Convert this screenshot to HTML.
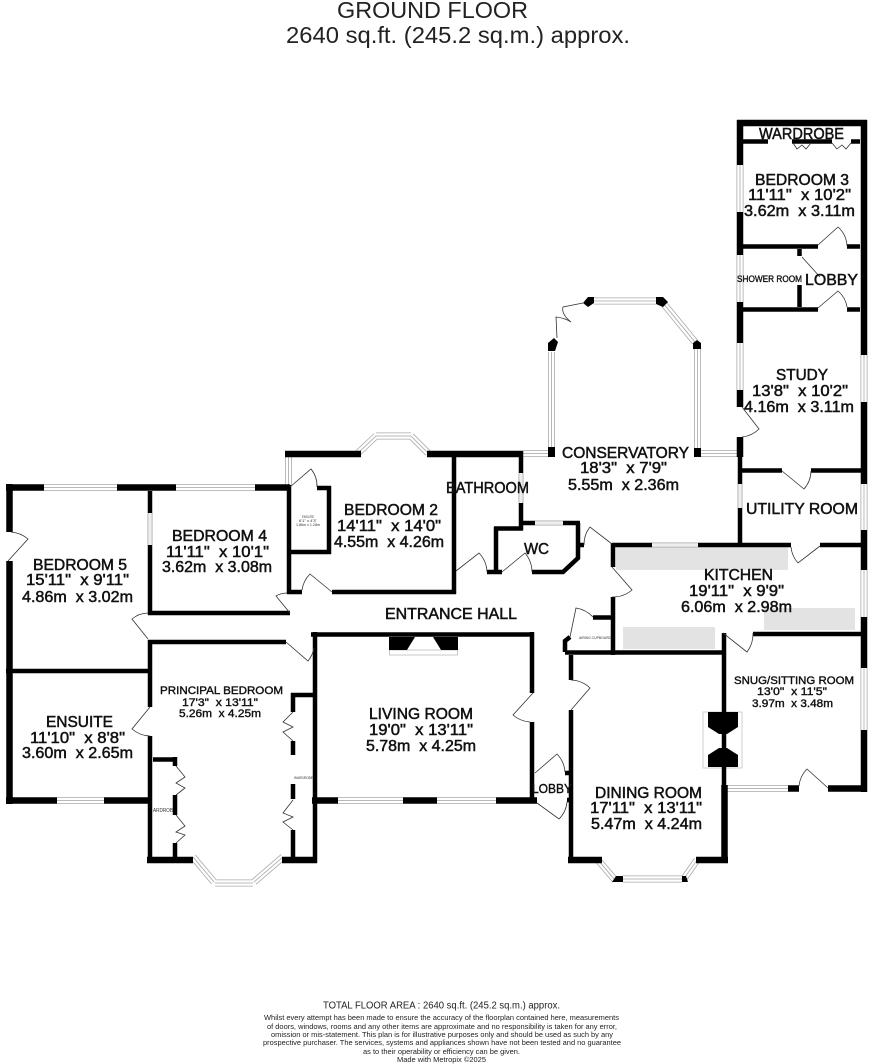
<!DOCTYPE html>
<html lang="en">
<head>
<meta charset="utf-8">
<title>Ground Floor Plan</title>
<style>
html,body{margin:0;padding:0;background:#fff}
svg{display:block;filter:blur(.3px)}
text{font-family:"Liberation Sans",sans-serif;fill:#111;white-space:pre}
.l{font-size:15.6px;stroke:#111;stroke-width:.5}
.t{font-size:23px;fill:#222}
.f{font-size:7.4px;fill:#222}
.s{font-size:9px;stroke:#111;stroke-width:.35}
.m{font-size:11px;stroke:#111;stroke-width:.4}
.x{font-size:4px;fill:#333}
.w{fill:none;stroke:#000;stroke-linecap:butt;stroke-linejoin:miter}
.d{fill:none;stroke:#333;stroke-width:.8}
</style>
</head>
<body>
<svg xmlns="http://www.w3.org/2000/svg" width="872" height="1064" viewBox="0 0 872 1064">
<rect width="872" height="1064" fill="#fff"/>
<defs>
<path id="win7" d="M44 487.5H117M176 487.5H255M288.5 457V485M522 453.5H550M701 453.5H739M551.5 352V447M697.5 349V448M594 301H656M663 303L695 342M740 165V212M740 255V302M740 343V390M864 355V402M864 484V530M864 570V617M864 668V730M57 800.5H104M338 800.5H403M437 800.5H496M358 453L376 436M376 436H411M411 436L428 453M193 857L214 882M215 883H253M254 882L283 857M598 860L615 880M623 879H682M683 880L697 860M726 788.5H788"/>
<path id="win5" d="M150 513V545M740 484V508M652 545H698M521 473V503M535 523H563"/>
</defs>

<!-- kitchen fittings -->
<g fill="#e3e3e3">
<rect x="616" y="547" width="172" height="23"/>
<rect x="764" y="608" width="91" height="22"/>
<rect x="623" y="627" width="92" height="22"/>
</g>

<!-- windows -->
<g fill="none" stroke-linecap="butt">
<use href="#win7" stroke="#a8a8a8" stroke-width="7"/>
<use href="#win7" stroke="#fff" stroke-width="5.4"/>
<use href="#win7" stroke="#b8b8b8" stroke-width="1"/>
<use href="#win5" stroke="#a8a8a8" stroke-width="5"/>
<use href="#win5" stroke="#eee" stroke-width="3.4"/>
</g>

<!-- fireplaces -->
<rect x="389.5" y="650" width="68" height="5" fill="#fff" stroke="#bbb" stroke-width=".8"/>
<path d="M389 637H415L407 650H389ZM433 637H458V650H441Z" fill="#000"/>
<rect x="703" y="712" width="39" height="56" fill="#fff" stroke="#c4c4c4" stroke-width=".8"/>
<path d="M708 712H738V727L727 734H719L708 727ZM719 748H727L738 755V767H708V755Z" fill="#000"/>

<!-- thick walls -->
<g class="w" stroke-width="6.5">
<path d="M737 123H867M740 120V165M740 212V255M740 302V343M740 390V407M740 437V457"/>
<path d="M864 120V355M864 402V484M864 530V570M864 617V668M864 730V792"/>
<path d="M6 487.5H44M117 487.5H176M255 487.5H290M9.5 484V532M9.5 561V804M6 800.5H57M104 800.5H150"/>
<path d="M312 800.5H338M403 800.5H437M496 800.5H537"/>
<path d="M147 860H193M282 860H317M568 860H602M696 860H728M724.5 785V863"/>
<path d="M788 788.5H799M828 788.5H867"/>
<path d="M285 454H361M427 454H522"/>
</g>

<!-- regular walls -->
<g class="w" stroke-width="4.5">
<path d="M743 141.5H768M792 141.5H832M851 141.5H860"/>
<path d="M743 246.5H818M847 246.5H860M799.5 249V256M799.5 285V307M743 309.5H818M847 309.5H860"/>
<path d="M742 470.5H782M811 470.5H861M740 457V484M740 508V545"/>
<path d="M612 545H652M698 545H791M820 545H862M613 543V567M613 597V655M593 617.5H613"/>
<path d="M565 652.5H726M570 637L565 641V652M724 633V787M753 634H862"/>
<path d="M571 655V680M571 710V857M565 773H572M567 800H573"/>
<path d="M311 634.5H534M315 632V863M532 632V693M532 722V798"/>
<path d="M291 695H315M293 693V712M293 741V755M293 784V799M293 830V857"/>
<path d="M150 736V860M150 640V707M148 642H286M148 613H290M150 491V513M150 545V615M6 671H150"/>
<path d="M153 759.5H177M175 757V766M175 795V815M175 843V857"/>
<path d="M454 451V594M287 592H302M332 592H456M289 485V594M317 488H331M329 486V554M291 552H331"/>
<path d="M521 451V473M521 503V530M494 528.5H523M496 527V574M487 572H502M532 572H563L578 558V523M523 523H535M563 523H580M580 545H584"/>
</g>

<!-- pillars -->
<g fill="#000">
<path d="M548 343L554 338L558 342L555 351H548Z"/>
<path d="M583 303L588 297H594V303L588 307Z"/>
<path d="M656 297H663L668 302L663 307L656 304Z"/>
<path d="M693 343L697 340L701 343V349H693Z"/>
<rect x="548" y="447" width="7" height="10"/>
<rect x="694" y="448" width="7" height="9"/>
<path d="M612 882L616 876H623V882Z"/>
<path d="M682 876H686L688 882H682Z"/>
</g>

<!-- doors -->
<g class="d">
<path d="M818 245L838 227A27 27 0 0 1 847 246"/>
<path d="M818 308L838 291A26 26 0 0 1 847 307"/>
<path d="M802 257L820 277"/>
<path d="M742 407L759 429A28 28 0 0 1 742 437"/>
<path d="M782 471L804 489A28 28 0 0 0 811 471"/>
<path d="M820 546L798 563A28 28 0 0 1 791 547"/>
<path d="M612 567L632 590A30 30 0 0 1 612 597"/>
<path d="M570 637L576 608A30 30 0 0 1 593 617"/>
<path d="M571 710L590 688A29 29 0 0 0 571 680"/>
<path d="M535 773L557 754A29 29 0 0 1 565 772"/>
<path d="M537 803L559 819A27 27 0 0 0 567 802"/>
<path d="M533 693L513 715A29 29 0 0 0 530 722"/>
<path d="M8 561L28 539A30 30 0 0 0 11 532"/>
<path d="M148 639L132 619A26 26 0 0 1 148 613"/>
<path d="M150 707L132 729A29 29 0 0 0 150 736"/>
<path d="M286 642L308 661A29 29 0 0 0 314 648"/>
<path d="M290 613L276 596A22 22 0 0 1 287 593"/>
<path d="M332 592L310 574A28 28 0 0 0 302 590"/>
<path d="M290 487L311 469A27 27 0 0 1 317 487"/>
<path d="M456 571L479 553A29 29 0 0 1 487 572"/>
<path d="M502 572L525 553A30 30 0 0 1 532 572"/>
<path d="M612 544L590 527A28 28 0 0 0 584 545"/>
<path d="M723 633L747 652A30 30 0 0 0 753 633"/>
<path d="M828 788L807 769A28 28 0 0 0 799 786"/>
<path d="M557 338L556 317Q565 318 571 322M583 303L563 307Q561 314 571 322"/>
<path d="M793 143L797 149L802 145L806 149L811 143M832 143L837 149L842 145L846 149L851 143"/>
<path d="M176 766L185 777L176 783L185 788L176 795M176 815L185 826L176 832L185 835L176 843"/>
<path d="M293 712L283 722L293 727L283 732L293 741M293 800L283 813L293 817L283 822L293 830"/>
</g>

<!-- header -->
<text class="t" x="337" y="18" textLength="191" lengthAdjust="spacingAndGlyphs">GROUND FLOOR</text>
<text class="t" x="286" y="43" textLength="344" lengthAdjust="spacingAndGlyphs">2640 sq.ft. (245.2 sq.m.) approx.</text>

<!-- room labels -->
<g class="l">
<text x="759" y="139" textLength="85" lengthAdjust="spacingAndGlyphs">WARDROBE</text>
<text x="755" y="185" textLength="94" lengthAdjust="spacingAndGlyphs">BEDROOM 3</text>
<text x="748" y="200" textLength="103" lengthAdjust="spacingAndGlyphs">11'11"  x 10'2"</text>
<text x="744" y="216" textLength="111" lengthAdjust="spacingAndGlyphs">3.62m  x 3.11m</text>
<text x="805" y="285" textLength="53" lengthAdjust="spacingAndGlyphs">LOBBY</text>
<text x="776" y="380" textLength="52" lengthAdjust="spacingAndGlyphs">STUDY</text>
<text x="752" y="396" textLength="96" lengthAdjust="spacingAndGlyphs">13'8"  x 10'2"</text>
<text x="744" y="412" textLength="110" lengthAdjust="spacingAndGlyphs">4.16m  x 3.11m</text>
<text x="746" y="514" textLength="112" lengthAdjust="spacingAndGlyphs">UTILITY ROOM</text>
<text x="562" y="458" textLength="127" lengthAdjust="spacingAndGlyphs">CONSERVATORY</text>
<text x="580" y="473" textLength="87" lengthAdjust="spacingAndGlyphs">18'3"  x 7'9"</text>
<text x="568" y="490" textLength="111" lengthAdjust="spacingAndGlyphs">5.55m  x 2.36m</text>
<text x="344" y="515" textLength="94" lengthAdjust="spacingAndGlyphs">BEDROOM 2</text>
<text x="337" y="531" textLength="104" lengthAdjust="spacingAndGlyphs">14'11"  x 14'0"</text>
<text x="334" y="547" textLength="110" lengthAdjust="spacingAndGlyphs">4.55m  x 4.26m</text>
<text x="446" y="493" textLength="83" lengthAdjust="spacingAndGlyphs">BATHROOM</text>
<text x="524" y="554" textLength="25" lengthAdjust="spacingAndGlyphs">WC</text>
<text x="385" y="619" textLength="132" lengthAdjust="spacingAndGlyphs">ENTRANCE HALL</text>
<text x="704" y="580" textLength="69" lengthAdjust="spacingAndGlyphs">KITCHEN</text>
<text x="689" y="596" textLength="95" lengthAdjust="spacingAndGlyphs">19'11"  x 9'9"</text>
<text x="681" y="612" textLength="111" lengthAdjust="spacingAndGlyphs">6.06m  x 2.98m</text>
<text x="595" y="798" textLength="107" lengthAdjust="spacingAndGlyphs">DINING ROOM</text>
<text x="590" y="813" textLength="112" lengthAdjust="spacingAndGlyphs">17'11"  x 13'11"</text>
<text x="591" y="829" textLength="111" lengthAdjust="spacingAndGlyphs">5.47m  x 4.24m</text>
<text x="369" y="719" textLength="104" lengthAdjust="spacingAndGlyphs">LIVING ROOM</text>
<text x="369" y="735" textLength="104" lengthAdjust="spacingAndGlyphs">19'0"  x 13'11"</text>
<text x="366" y="751" textLength="110" lengthAdjust="spacingAndGlyphs">5.78m  x 4.25m</text>
<text x="46" y="727" textLength="67" lengthAdjust="spacingAndGlyphs">ENSUITE</text>
<text x="30" y="743" textLength="95" lengthAdjust="spacingAndGlyphs">11'10"  x 8'8"</text>
<text x="22" y="758" textLength="111" lengthAdjust="spacingAndGlyphs">3.60m  x 2.65m</text>
<text x="33" y="570" textLength="94" lengthAdjust="spacingAndGlyphs">BEDROOM 5</text>
<text x="26" y="585" textLength="103" lengthAdjust="spacingAndGlyphs">15'11"  x 9'11"</text>
<text x="22" y="602" textLength="111" lengthAdjust="spacingAndGlyphs">4.86m  x 3.02m</text>
<text x="172" y="541" textLength="95" lengthAdjust="spacingAndGlyphs">BEDROOM 4</text>
<text x="166" y="557" textLength="103" lengthAdjust="spacingAndGlyphs">11'11"  x 10'1"</text>
<text x="162" y="572" textLength="110" lengthAdjust="spacingAndGlyphs">3.62m  x 3.08m</text>
</g>
<g class="m">
<text x="734" y="684" textLength="120" lengthAdjust="spacingAndGlyphs">SNUG/SITTING ROOM</text>
<text x="757" y="695" textLength="70" lengthAdjust="spacingAndGlyphs">13'0"  x 11'5"</text>
<text x="752" y="707" textLength="81" lengthAdjust="spacingAndGlyphs">3.97m  x 3.48m</text>
<text x="160" y="694" textLength="123" lengthAdjust="spacingAndGlyphs">PRINCIPAL BEDROOM</text>
<text x="182" y="706" textLength="76" lengthAdjust="spacingAndGlyphs">17'3"  x 13'11"</text>
<text x="179" y="717" textLength="82" lengthAdjust="spacingAndGlyphs">5.26m  x 4.25m</text>
<text style="font-size:12.5px" x="532" y="793" textLength="40" lengthAdjust="spacingAndGlyphs">LOBBY</text>
</g>
<text class="s" x="737" y="282" textLength="65" lengthAdjust="spacingAndGlyphs">SHOWER ROOM</text>
<text class="x" x="579" y="639" textLength="32" lengthAdjust="spacingAndGlyphs">AIRING CUPBOARD</text>
<text class="x" x="294" y="779" textLength="19" lengthAdjust="spacingAndGlyphs">WARDROBE</text>
<text class="x" style="font-size:5.5px" x="153" y="812" textLength="20" lengthAdjust="spacingAndGlyphs">ARDROB</text>
<text class="x" x="302" y="518" textLength="12" lengthAdjust="spacingAndGlyphs">ENSUITE</text>
<text class="x" x="299" y="522" textLength="18" lengthAdjust="spacingAndGlyphs">6'1" x 4'3"</text>
<text class="x" x="296" y="526" textLength="24" lengthAdjust="spacingAndGlyphs">1.86m x 1.28m</text>

<!-- footer -->
<text class="f" style="font-size:10px" x="323" y="1008.5" textLength="237" lengthAdjust="spacingAndGlyphs">TOTAL FLOOR AREA : 2640 sq.ft. (245.2 sq.m.) approx.</text>
<text class="f" x="264" y="1020" textLength="355" lengthAdjust="spacingAndGlyphs">Whilst every attempt has been made to ensure the accuracy of the floorplan contained here, measurements</text>
<text class="f" x="267" y="1029" textLength="350" lengthAdjust="spacingAndGlyphs">of doors, windows, rooms and any other items are approximate and no responsibility is taken for any error,</text>
<text class="f" x="271" y="1037" textLength="342" lengthAdjust="spacingAndGlyphs">omission or mis-statement. This plan is for illustrative purposes only and should be used as such by any</text>
<text class="f" x="263" y="1045" textLength="358" lengthAdjust="spacingAndGlyphs">prospective purchaser. The services, systems and appliances shown have not been tested and no guarantee</text>
<text class="f" x="363" y="1054" textLength="157" lengthAdjust="spacingAndGlyphs">as to their operability or efficiency can be given.</text>
<text class="f" x="397" y="1062" textLength="89" lengthAdjust="spacingAndGlyphs">Made with Metropix ©2025</text>
</svg>
</body>
</html>
